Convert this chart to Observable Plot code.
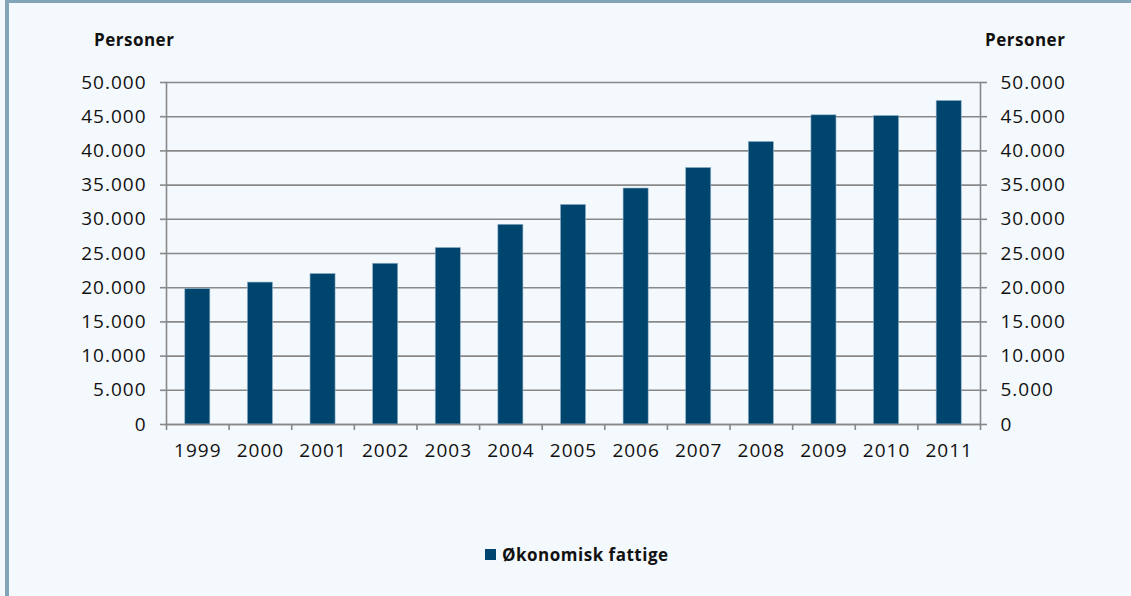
<!DOCTYPE html>
<html>
<head>
<meta charset="utf-8">
<script src="https://cdn.jsdelivr.net/npm/d3@7"></script>
<script src="https://cdn.jsdelivr.net/npm/@observablehq/plot@0.6"></script>
<style>
  html, body { margin: 0; padding: 0; background: #f4f9fd; }
  #wrap { position: relative; width: 1131px; height: 596px; background: #f4f9fd; overflow: hidden;
          font-family: "Open Sans", sans-serif; color: #111; }
  #bl { position: absolute; left: 5px; top: 0; width: 4px; height: 596px; background: #83a5ba; }
  #bt { position: absolute; left: 5px; top: 0; width: 1126px; height: 3px; background: #83a5ba; }
  .unit { position: absolute; top: 28px; font-weight: 700; font-size: 17px; letter-spacing: 0.5px; }
  #uL { left: 94px; }
  #uR { left: 985px; }
  #legend { position: absolute; left: 485px; top: 543px; font-weight: 700; font-size: 17px; letter-spacing: 0.5px; display: flex; align-items: center; }
  #legend .sw { width: 11px; height: 11px; background: #00456e; margin-right: 6px; }
  #chart { position: absolute; left: 0; top: 0; }
</style>
</head>
<body>
<div id="wrap">
  <div id="chart"></div>
  <div id="bl"></div>
  <div id="bt"></div>
  <div class="unit" id="uL">Personer</div>
  <div class="unit" id="uR">Personer</div>
  <div id="legend"><div class="sw"></div><span>Økonomisk fattige</span></div>
</div>
<script>
const years = [1999, 2000, 2001, 2002, 2003, 2004, 2005, 2006, 2007, 2008, 2009, 2010, 2011];
const values = [19800, 20750, 22000, 23500, 25800, 29200, 32100, 34500, 37500, 41300, 45200, 45100, 47300];
const seriesName = "Økonomisk fattige";
const yTicks = [0, 5000, 10000, 15000, 20000, 25000, 30000, 35000, 40000, 45000, 50000];

const data = years.map((y, i) => ({year: y, value: values[i]}));
const boundaries = years.map(y => y - 0.5).concat([years[years.length - 1] + 0.5]);
const fmt = d => d === 0 ? "0" : d3.format(",")(d).replace(/,/g, ".");
const grid = "#888888";

const chart = Plot.plot({
  width: 1131,
  height: 596,
  marginLeft: 166,
  marginRight: 151,
  marginTop: 82,
  marginBottom: 172,
  style: {background: "transparent", fontFamily: "'Open Sans', sans-serif", fontSize: "19px", color: "#111", letterSpacing: "1px"},
  x: {type: "linear", domain: [years[0] - 0.5, years[years.length - 1] + 0.5]},
  y: {domain: [0, 50000]},
  marks: [
    Plot.gridY(yTicks, {stroke: grid, strokeOpacity: 1, strokeWidth: 1.6}),
    Plot.rectY(data, {x1: d => d.year - 0.2, x2: d => d.year + 0.2, y: "value", fill: "#00456e", stroke: "#8fb0c6", strokeWidth: 0.6}),
    Plot.frame({anchor: "left", stroke: grid, strokeWidth: 1.6}),
    Plot.frame({anchor: "right", stroke: grid, strokeWidth: 1.6}),
    Plot.ruleY([0], {stroke: grid, strokeWidth: 1.6}),
    Plot.axisY({anchor: "left", ticks: yTicks, tickFormat: fmt, tickSize: 6, tickPadding: 14, stroke: grid, strokeWidth: 1.6, label: null, fill: "#111"}),
    Plot.axisY({anchor: "right", ticks: yTicks, tickFormat: fmt, tickSize: 6, tickPadding: 14, stroke: grid, strokeWidth: 1.6, label: null, fill: "#111"}),
    Plot.axisX({anchor: "bottom", ticks: boundaries, tickFormat: () => "", tickSize: 6, stroke: grid, strokeWidth: 1.6, label: null}),
    Plot.axisX({anchor: "bottom", ticks: years, tickFormat: d => String(d), tickSize: 0, tickPadding: 19, label: null, fill: "#111"})
  ]
});
document.getElementById("chart").appendChild(chart);
</script>
</body>
</html>
